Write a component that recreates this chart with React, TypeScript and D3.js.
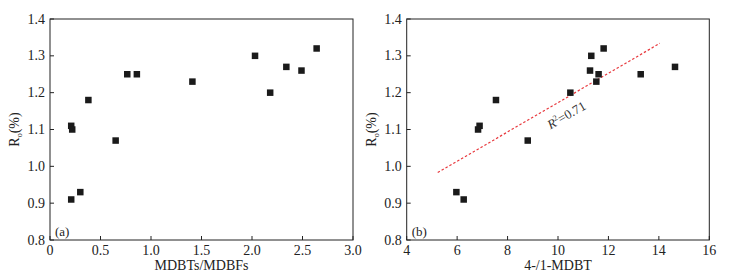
import React from "react";
import * as d3 from "d3";

// panel (a): MDBTs/MDBFs vs Ro
const ratioA = [0.21, 0.22, 0.21, 0.3, 0.38, 0.65, 0.765, 0.86, 1.41, 2.03, 2.18, 2.34, 2.49, 2.64];
const roA = [1.11, 1.1, 0.91, 0.93, 1.18, 1.07, 1.25, 1.25, 1.23, 1.3, 1.2, 1.27, 1.26, 1.32];

// panel (b): 4-/1-MDBT vs Ro
const ratioB = [5.97, 6.26, 6.83, 6.89, 7.54, 8.8, 10.49, 11.27, 11.32, 11.52, 11.61, 11.81, 13.28, 14.64];
const roB = [0.93, 0.91, 1.1, 1.11, 1.18, 1.07, 1.2, 1.26, 1.3, 1.23, 1.25, 1.32, 1.25, 1.27];

// fitted trend line in (b), endpoints
const fitX = [5.23, 14.04];
const fitY = [0.983, 1.334];

const yTicks = [0.8, 0.9, 1.0, 1.1, 1.2, 1.3, 1.4];
const xTicksA = [0, 0.5, 1.0, 1.5, 2.0, 2.5, 3.0];
const xTicksB = [4, 6, 8, 10, 12, 14, 16];

const font = "'Liberation Serif', 'Times New Roman', serif";
const top = 19;
const bottom = 240;

type PanelProps = {
  left: number;
  right: number;
  xDomain: [number, number];
  xTicks: number[];
  fmt: (d: number) => string;
  xs: number[];
  ys: number[];
  xLabel: string;
  tag: string;
  fit?: boolean;
};

const Panel = ({ left, right, xDomain, xTicks, fmt, xs, ys, xLabel, tag, fit }: PanelProps) => {
  const x = d3.scaleLinear().domain(xDomain).range([left, right]);
  const y = d3.scaleLinear().domain([0.8, 1.4]).range([bottom, top]);
  const line = d3
    .line<number>()
    .x((d) => x(d))
    .y((d, i) => y(fitY[i]));
  const s = 6.5;
  const lx = x(9.7);
  const ly = y(1.1);
  return (
    <g fontFamily={font} fill="#222">
      {xTicks.map((t) => (
        <g key={"x" + t}>
          <line x1={x(t)} x2={x(t)} y1={bottom} y2={bottom - 4} stroke="#222" />
          <text x={x(t)} y={bottom + 15} textAnchor="middle" fontSize={14}>
            {fmt(t)}
          </text>
        </g>
      ))}
      {yTicks.map((t) => (
        <g key={"y" + t}>
          <line x1={left} x2={left + 4} y1={y(t)} y2={y(t)} stroke="#222" />
          <text x={left - 5} y={y(t) + 4.5} textAnchor="end" fontSize={14}>
            {t.toFixed(1)}
          </text>
        </g>
      ))}
      <rect x={left} y={top} width={right - left} height={bottom - top} fill="none" stroke="#222" strokeWidth={1} />
      {fit && (
        <>
          <path d={line(fitX) || ""} fill="none" stroke="#e8383d" strokeWidth={1.2} strokeDasharray="2.5,2" />
          <text
            transform={`translate(${lx},${ly}) rotate(-30)`}
            fontSize={13}
            fill="#333"
          >
            <tspan fontStyle="italic">R</tspan>
            <tspan fontSize={8} dy={-5}>2</tspan>
            <tspan dy={5}>=0.71</tspan>
          </text>
        </>
      )}
      {xs.map((d, i) => (
        <rect key={i} x={x(d) - s / 2} y={y(ys[i]) - s / 2} width={s} height={s} fill="#1a1a1a" />
      ))}
      <text x={left + 5} y={bottom - 4} fontSize={13}>
        {tag}
      </text>
      <text x={(left + right) / 2} y={270} textAnchor="middle" fontSize={14}>
        {xLabel}
      </text>
      <text transform={`translate(${left - 31},${(top + bottom) / 2}) rotate(-90)`} textAnchor="middle" fontSize={14}>
        R<tspan fontSize={8} dy={3}>o</tspan>
        <tspan dy={-3}>(%)</tspan>
      </text>
    </g>
  );
};

export default function App() {
  return (
    <svg width={729} height={275} style={{ position: "absolute", left: 0, top: 0, background: "#fff" }}>
      <rect width={729} height={275} fill="#fff" />
      <Panel
        left={50}
        right={353}
        xDomain={[0, 3]}
        xTicks={xTicksA}
        fmt={(d) => (d === 0 ? "0" : d.toFixed(1))}
        xs={ratioA}
        ys={roA}
        xLabel="MDBTs/MDBFs"
        tag="(a)"
      />
      <Panel
        left={406.7}
        right={709.3}
        xDomain={[4, 16]}
        xTicks={xTicksB}
        fmt={(d) => String(d)}
        xs={ratioB}
        ys={roB}
        xLabel="4-/1-MDBT"
        tag="(b)"
        fit
      />
    </svg>
  );
}
